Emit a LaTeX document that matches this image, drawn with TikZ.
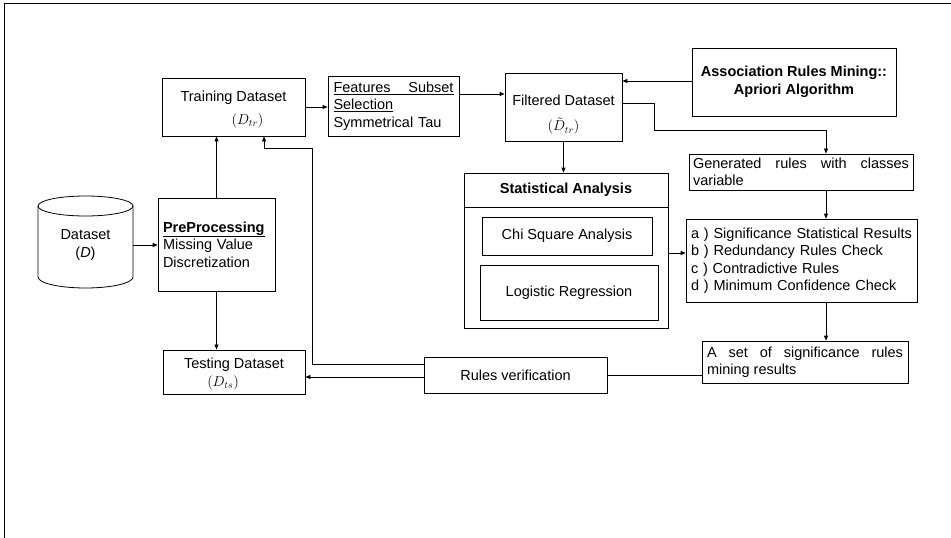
\documentclass[tikz,border=0pt]{standalone}
\usepackage{fontspec}
\setmainfont{Liberation Sans}
\usetikzlibrary{arrows.meta, positioning}
\hyphenpenalty=10000
\exhyphenpenalty=10000

\begin{document}
\begin{tikzpicture}[x=1pt, y=1pt, line width=0.8pt, >={Triangle[length=5pt, width=4pt]},
    box/.style={draw, inner sep=4pt, font=\fontsize{14.5pt}{17.5pt}\selectfont},
    head/.style={font=\fontsize{14.5pt}{17.5pt}\selectfont\bfseries},
    txt/.style={inner sep=0pt, font=\fontsize{14.5pt}{17.5pt}\selectfont}]
  \useasboundingbox (0,0) rectangle (951,-538);
  % page frame
  \draw (4,-538) -- (4,-3) -- (951,-3);

  % dataset drum
  \draw (38,-206) -- (38,-277) arc[start angle=180, end angle=360, x radius=47.5, y radius=11] -- (133,-206);
  \draw (85.5,-206) ellipse [x radius=47.5, y radius=10];
  \node (dataset) [txt, minimum width=95pt, align=center] at (85.5,-245) {Dataset\\(\textit{D})};

  \node (prep) [box, text width=107pt, inner xsep=5pt, minimum height=93pt, align=left] at (216.5,-244.5) {\underline{\textbf{PreProcessing}}\\Missing Value\\Discretization};
  \node (training) [box, minimum width=143pt, minimum height=58pt, align=center] at (233.5,-107) {\rule{0pt}{16pt}Training Dataset\\[5pt]\hspace*{28pt}$(D_{tr})$};
  \node (testing) [box, minimum width=142pt, minimum height=44pt, align=center] at (234,-372) {\rule{0pt}{15pt}Testing Dataset\\$(D_{ts})$\hspace*{22pt}};
  \node (features) [box, text width=120pt, inner xsep=5.5pt, minimum height=60pt, align=left] at (393.5,-106) {\underline{\hbox to 120pt{Features\hfill Subset}}\\\underline{Selection}\\Symmetrical Tau};
  \node (filtered) [box, minimum width=117pt, minimum height=68pt, align=center] at (563.5,-107) {\rule{0pt}{26pt}Filtered Dataset\\[8pt]$(\tilde{D}_{tr})$};
  \node (assoc) [box, head, minimum width=204pt, minimum height=68pt, align=center] at (794,-82) {Association Rules Mining::\\Apriori Algorithm};
  \node (generated) [box, text width=216pt, inner xsep=4pt, minimum height=36pt, align=justify] at (801,-172) {Generated rules with classes variable};

  % statistical analysis block
  \node (stat) [box, minimum width=204pt, minimum height=155pt] at (566,-250.5) {};
  \node (stathead) [box, head, minimum width=204pt, minimum height=34pt, anchor=north] at (stat.north) {Statistical Analysis};
  \node (chi) [box, minimum width=170pt, minimum height=38pt] at (567,-236) {Chi Square Analysis};
  \node (logit) [box, minimum width=178pt, minimum height=55pt] at (569,-292.5) {Logistic Regression};

  \node (checks) [box, text width=221pt, inner xsep=5pt, minimum height=83pt, align=left] at (801.5,-260.5) {a ) Significance Statistical Results\\b ) Redundancy Rules Check\\c ) Contradictive Rules\\d ) Minimum Confidence Check};
  \node (results) [box, text width=196pt, inner xsep=5pt, minimum height=42pt, align=justify] at (805,-362) {A set of significance rules mining results};
  \node (verify) [box, minimum width=183pt, minimum height=36pt] at (515.5,-375) {Rules verification};

  % connectors
  \draw[->] (dataset.east) -- (dataset.east -| prep.west);
  \draw[->] (prep.north) -- (prep.north |- training.south);
  \draw[->] (prep.south) -- (prep.south |- testing.north);
  \draw[->] (training.east) -- (training.east -| features.west);
  \draw[->] ([yshift=12pt]features.east) -- ([yshift=12pt]features.east -| filtered.west);
  \draw[->] ([yshift=1pt]assoc.west) -- ([yshift=1pt]assoc.west -| filtered.east);
  \draw[->] ([yshift=4pt]filtered.east) -- ++(32,0) |- ([xshift=25pt, yshift=23pt]generated.north) -- ([xshift=25pt]generated.north);
  \draw[->] (filtered.south) -- (filtered.south |- stat.north);
  \draw[->] ([xshift=25pt]generated.south) -- ([xshift=25pt]generated.south |- checks.north);
  \draw[->] ([xshift=24.5pt]checks.south) -- ([xshift=24.5pt]checks.south |- results.north);
  \draw[->] ([yshift=-2.5pt]stat.east) -- ([yshift=-2.5pt]stat.east -| checks.west);
  \draw (verify.east) -- (verify.east -| results.west);
  \draw[->] ([yshift=-2pt]verify.west) -- ([yshift=-2pt]verify.west -| testing.east);
  \draw[->] ([yshift=11pt]verify.west) -| ([xshift=78.5pt, yshift=-12pt]training.south) -| ([xshift=30.5pt]training.south);
\end{tikzpicture}
\end{document}
